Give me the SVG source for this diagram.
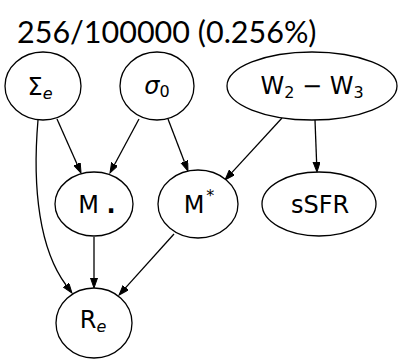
<svg xmlns="http://www.w3.org/2000/svg" width="403" height="364" viewBox="0 0 403 364">
<defs>
<style>
.node ellipse{fill:#fff;stroke:#000;stroke-width:1.3}
.node text{font-family:"DejaVu Sans",sans-serif;font-size:24px;fill:#000;text-anchor:middle}
.sub{font-size:16px}
.it{font-style:italic}
#edges path{fill:none;stroke:#000;stroke-width:1.3;marker-end:url(#ah)}
.title{font-family:Lato,"Liberation Sans",sans-serif;font-size:30.5px;fill:#000}
</style>
<marker id="ah" markerUnits="userSpaceOnUse" markerWidth="11" markerHeight="8" refX="0" refY="3.5" orient="auto" viewBox="0 0 11 8">
<path d="M0,0 L10,3.5 L0,7 z" fill="#000" stroke="#000" stroke-width="1"/>
</marker>
</defs>
<rect width="403" height="364" fill="#fff"/>
<text class="title" x="17" y="43">256/100000 (0.256%)</text>
<g id="edges">
<path d="M57,119 L77,164"/>
<path d="M139,119 L114.7,164.2"/>
<path d="M168,119 L184.4,161.7"/>
<path d="M282,118 L231.8,172.6"/>
<path d="M315,120 L316.6,162"/>
<path d="M94,237 L94,278"/>
<path d="M174,234 L125.7,287.6"/>
<path d="M38,120 C32,190 40,250 66,285"/>
</g>
<g id="n_sigma_e" class="node"><ellipse cx="43" cy="86" rx="38" ry="34"/><text x="40" y="95">Σ<tspan class="sub it" dy="4">e</tspan></text></g>
<g id="n_sigma0" class="node"><ellipse cx="157" cy="86" rx="37" ry="34"/><text x="157" y="94"><tspan class="it">σ</tspan><tspan class="sub" dy="3">0</tspan></text></g>
<g id="n_w2w3" class="node"><ellipse cx="312" cy="86" rx="85" ry="34"/><text x="312" y="94">W<tspan class="sub" dy="4">2</tspan><tspan dy="-4"> − W</tspan><tspan class="sub" dy="4">3</tspan></text></g>
<g id="n_mdot" class="node"><ellipse cx="94" cy="204" rx="39" ry="32"/><text x="97" y="213">M <tspan font-weight="bold">.</tspan></text></g>
<g id="n_mstar" class="node"><ellipse cx="198" cy="204" rx="40" ry="34"/><text x="199" y="213">M<tspan class="sub" dy="-12" dx="2">*</tspan></text></g>
<g id="n_ssfr" class="node"><ellipse cx="319" cy="204" rx="57" ry="32"/><text x="320" y="213">sSFR</text></g>
<g id="n_re" class="node"><ellipse cx="94" cy="323" rx="38" ry="35"/><text x="93" y="328">R<tspan class="sub it" dy="4">e</tspan></text></g>
</svg>
